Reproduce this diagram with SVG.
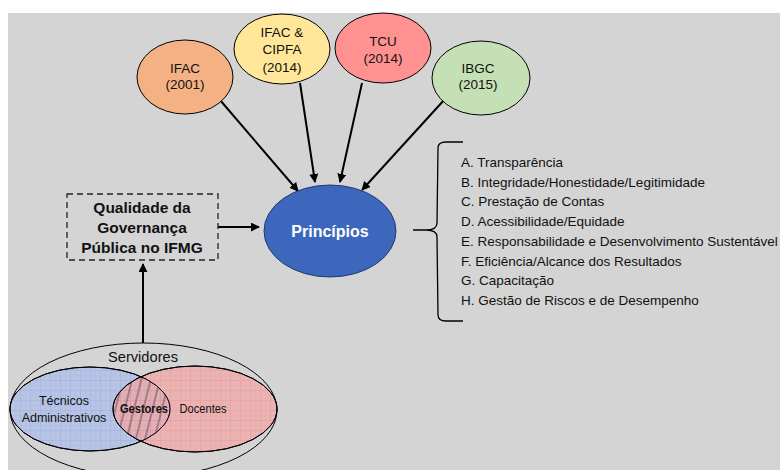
<svg xmlns="http://www.w3.org/2000/svg" width="780" height="470" viewBox="0 0 780 470">
<style>
  text { font-family: "Liberation Sans", Arial, sans-serif; fill: #111; }
  .src text { font-size: 13.5px; text-anchor: middle; }
  .src ellipse { stroke: #000; stroke-width: 1; }
  .conn line, .conn path { stroke: #000; stroke-width: 2; fill: none; }
  .list text { font-size: 13.5px; }
  .venn ellipse.out { fill: none; stroke: #000; stroke-width: 1; }
</style>
<defs>
  <marker id="ah" viewBox="0 0 10 10" refX="9" refY="5" markerWidth="4.5" markerHeight="4.5" orient="auto" markerUnits="strokeWidth">
    <path d="M0,0 L10,5 L0,10 z" fill="#000"/>
  </marker>
  <pattern id="gridB" width="10" height="10" patternUnits="userSpaceOnUse">
    <rect width="10" height="10" fill="#b8c4e2"/>
    <path d="M0,0.5 H10 M0.5,0 V10" stroke="#a4b8ea" stroke-width="1"/>
    <path d="M0,5.5 H10 M5.5,0 V10" stroke="#afbee4" stroke-width="0.6"/>
  </pattern>
  <pattern id="gridP" width="10" height="10" patternUnits="userSpaceOnUse">
    <rect width="10" height="10" fill="#efa9a9"/>
    <path d="M0,0.5 H10 M0.5,0 V10" stroke="#f99090" stroke-width="1"/>
    <path d="M0,5.5 H10 M5.5,0 V10" stroke="#f29e9e" stroke-width="0.6"/>
  </pattern>
  <pattern id="hatch" width="9" height="40" patternUnits="userSpaceOnUse" patternTransform="rotate(14)">
    <line x1="4" y1="0" x2="4" y2="40" stroke="#333" stroke-width="0.75"/>
  </pattern>
  <clipPath id="blueClip"><ellipse cx="90" cy="409" rx="80" ry="42"/></clipPath>
</defs>

<rect x="0" y="0" width="780" height="470" fill="#ffffff"/>
<rect x="8" y="13" width="772" height="457" fill="#d4d4d4"/>

<g class="conn">
  <line x1="220" y1="100" x2="298" y2="191" marker-end="url(#ah)"/>
  <line x1="300" y1="83" x2="315" y2="182" marker-end="url(#ah)"/>
  <line x1="362" y1="83" x2="340" y2="182" marker-end="url(#ah)"/>
  <line x1="445" y1="99" x2="362" y2="190" marker-end="url(#ah)"/>
  <line x1="218" y1="227" x2="259" y2="227" marker-end="url(#ah)"/>
  <line x1="143" y1="343" x2="143" y2="264" marker-end="url(#ah)"/>
</g>

<g id="ifac" class="src">
  <ellipse cx="185" cy="77" rx="48" ry="37" fill="#f4b183"/>
  <text x="185" y="73">IFAC</text>
  <text x="185" y="89">(2001)</text>
</g>
<g id="ifac-cipfa" class="src">
  <ellipse cx="282" cy="49" rx="48" ry="35" fill="#ffe699"/>
  <text x="282" y="37">IFAC &amp;</text>
  <text x="282" y="54">CIPFA</text>
  <text x="282" y="72">(2014)</text>
</g>
<g id="tcu" class="src">
  <ellipse cx="383" cy="48" rx="48" ry="35" fill="#ff9191"/>
  <text x="383" y="46">TCU</text>
  <text x="383" y="63">(2014)</text>
</g>
<g id="ibgc" class="src">
  <ellipse cx="481" cy="78" rx="49" ry="37" fill="#c5e0b4"/>
  <text x="478" y="73">IBGC</text>
  <text x="478" y="89">(2015)</text>
</g>

<g id="principios">
  <ellipse cx="330" cy="231" rx="66" ry="46" fill="#3d67bd" stroke="#1f3a75" stroke-width="1"/>
  <text x="330" y="237" text-anchor="middle" font-size="16" font-weight="bold" style="fill:#fff">Princípios</text>
</g>

<g id="qualidade">
  <rect x="67" y="194" width="151" height="66" fill="none" stroke="#222" stroke-width="1.3" stroke-dasharray="6,4"/>
  <text x="142" y="213" text-anchor="middle" font-size="15.5" font-weight="bold">Qualidade da</text>
  <text x="142" y="233" text-anchor="middle" font-size="15.5" font-weight="bold">Governança</text>
  <text x="142" y="253" text-anchor="middle" font-size="15.5" font-weight="bold">Pública no IFMG</text>
</g>

<g id="lista" class="list">
  <path d="M413,230 L426,230 C433,230 437,228 437,223 L438,148 C438,144 440,142 446,142 L463,142 M426,230 C433,230 437,232 437,237 L438,315 C438,319 440,321 446,321 L463,321" stroke="#000" stroke-width="1.3" fill="none"/>
  <text x="461" y="167">A. Transparência</text>
  <text x="461" y="186.7">B. Integridade/Honestidade/Legitimidade</text>
  <text x="461" y="206.4">C. Prestação de Contas</text>
  <text x="461" y="226.1">D. Acessibilidade/Equidade</text>
  <text x="461" y="245.8">E. Responsabilidade e Desenvolvimento Sustentável</text>
  <text x="461" y="265.5">F. Eficiência/Alcance dos Resultados</text>
  <text x="461" y="285.2">G. Capacitação</text>
  <text x="461" y="304.9">H. Gestão de Riscos e de Desempenho</text>
</g>

<g id="servidores" class="venn">
  <ellipse class="out" cx="143.5" cy="410" rx="133.5" ry="67"/>
  <text x="143" y="362" text-anchor="middle" font-size="15.5" textLength="70" lengthAdjust="spacingAndGlyphs">Servidores</text>
</g>
<g id="tecnicos" class="venn">
  <ellipse cx="90" cy="409" rx="80" ry="42" fill="url(#gridB)" stroke="#000" stroke-width="1"/>
</g>
<g id="docentes" class="venn">
  <ellipse cx="195" cy="409" rx="82" ry="43" fill="url(#gridP)" fill-opacity="0.75" stroke="#000" stroke-width="1"/>
</g>
<g id="gestores" class="venn">
  <ellipse cx="195" cy="409" rx="82" ry="43" fill="url(#hatch)" clip-path="url(#blueClip)"/>
  <ellipse cx="90" cy="409" rx="80" ry="42" fill="none" stroke="#000" stroke-width="1"/>
  <ellipse cx="195" cy="409" rx="82" ry="43" fill="none" stroke="#000" stroke-width="1"/>
  <text x="144" y="413" text-anchor="middle" font-size="13" font-weight="bold" textLength="48" lengthAdjust="spacingAndGlyphs">Gestores</text>
</g>
<g id="labels-venn">
  <text x="64" y="405" text-anchor="middle" font-size="12.5">Técnicos</text>
  <text x="64" y="422" text-anchor="middle" font-size="12.5">Administrativos</text>
  <text x="203" y="413" text-anchor="middle" font-size="12.5" textLength="47" lengthAdjust="spacingAndGlyphs">Docentes</text>
</g>
</svg>
